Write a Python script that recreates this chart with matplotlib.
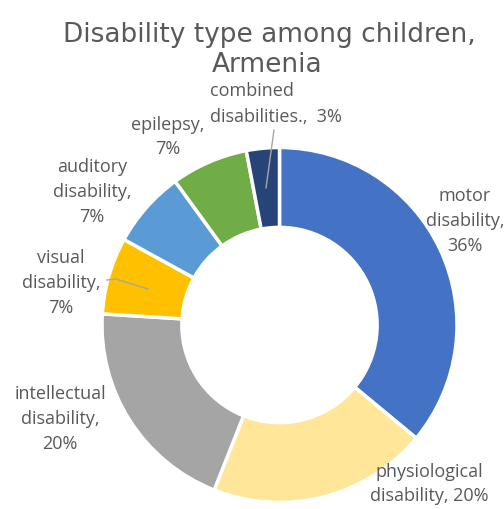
import matplotlib
matplotlib.use("Agg")
import matplotlib.pyplot as plt
from matplotlib.lines import Line2D

categories = ["motor disability", "physiological disability", "intellectual disability",
              "visual disability", "auditory disability", "epilepsy", "combined disabilities."]
values = [36, 20, 20, 7, 7, 7, 3]
label_texts = ["motor\ndisability,\n36%", "physiological\ndisability, 20%",
               "intellectual\ndisability,\n20%", "visual\ndisability,\n7%",
               "auditory\ndisability,\n7%", "epilepsy,\n7%", "combined\ndisabilities.,  3%"]
colors = ["#4472C4", "#FFE699", "#A5A5A5", "#FFC000", "#5B9BD5", "#70AD47", "#264478"]

W, H = 504, 509
fig = plt.figure(figsize=(W / 100, H / 100), dpi=100)

cx, cy, R = 279.5, 325.0, 177.5
ax = fig.add_axes([(cx - R) / W, (H - cy - R) / H, 2 * R / W, 2 * R / H])
ax.pie(values, colors=colors, startangle=90, counterclock=False, radius=1,
       wedgeprops=dict(width=0.45, edgecolor="white", linewidth=2.5))
ax.set_xlim(-1, 1)
ax.set_ylim(-1, 1)
ax.set_aspect("auto")
ax.axis("off")

def fx(x):
    return x / W

def fy(y):
    return 1 - y / H

tcol = "#595959"
fig.text(fx(269), fy(42), "Disability type among children,", ha="center", va="baseline",
         fontsize=19, color=tcol, family="DejaVu Sans")
fig.text(fx(267), fy(72), "Armenia", ha="center", va="baseline",
         fontsize=19, color=tcol, family="DejaVu Sans")

lab_pos = [(465, 221, "center", 1.5), (429, 484, "center", 1.4), (60, 419, "center", 1.5),
           (61, 283, "center", 1.5), (92, 192, "center", 1.5), (168, 137, "center", 1.5),
           (210, 104, "left", 1.5)]
for (x, y, ha, ls), t in zip(lab_pos, label_texts):
    fig.text(fx(x), fy(y), t, ha=ha, va="center", fontsize=13, color=tcol,
             family="Open Sans", linespacing=ls, multialignment=ha)

lc = "#A6A6A6"
fig.add_artist(Line2D([fx(274), fx(266)], [fy(130), fy(188)], color=lc, lw=1, transform=fig.transFigure))
fig.add_artist(Line2D([fx(107), fx(116), fx(148)], [fy(280), fy(279), fy(289)], color=lc, lw=1,
                      transform=fig.transFigure))

fig.savefig("out.png", dpi=100)
